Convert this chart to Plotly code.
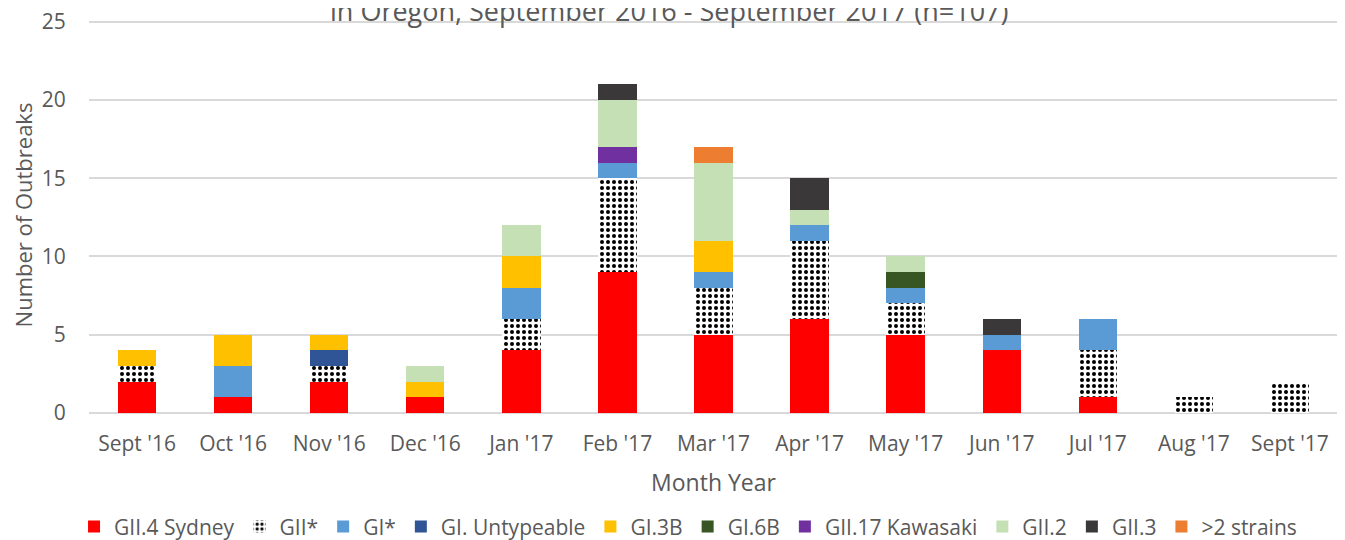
import plotly.graph_objects as go

months = ["Sept '16", "Oct '16", "Nov '16", "Dec '16", "Jan '17", "Feb '17", "Mar '17",
          "Apr '17", "May '17", "Jun '17", "Jul '17", "Aug '17", "Sept '17"]

gii4_sydney   = [2, 1, 2, 1, 4, 9, 5, 6, 5, 4, 1, 0, 0]
gii_star      = [1, 0, 1, 0, 2, 6, 3, 5, 2, 0, 3, 1, 2]
gi_star       = [0, 2, 0, 0, 2, 1, 1, 1, 1, 1, 2, 0, 0]
gi_untypeable = [0, 0, 1, 0, 0, 0, 0, 0, 0, 0, 0, 0, 0]
gi3b          = [1, 2, 1, 1, 2, 0, 2, 0, 0, 0, 0, 0, 0]
gi6b          = [0, 0, 0, 0, 0, 0, 0, 0, 1, 0, 0, 0, 0]
gii17_kawa    = [0, 0, 0, 0, 0, 1, 0, 0, 0, 0, 0, 0, 0]
gii2          = [0, 0, 0, 1, 2, 3, 5, 1, 1, 0, 0, 0, 0]
gii3          = [0, 0, 0, 0, 0, 1, 0, 2, 0, 1, 0, 0, 0]
more_strains  = [0, 0, 0, 0, 0, 0, 1, 0, 0, 0, 0, 0, 0]

y_ticks = [0, 5, 10, 15, 20, 25]

series = [
    ("GII.4 Sydney", gii4_sydney, "#FF0000"),
    ("GII*", gii_star, None),
    ("GI*", gi_star, "#5B9BD5"),
    ("GI. Untypeable", gi_untypeable, "#2F5597"),
    ("GI.3B", gi3b, "#FFC000"),
    ("GI.6B", gi6b, "#375623"),
    ("GII.17 Kawasaki", gii17_kawa, "#7030A0"),
    ("GII.2", gii2, "#C5E0B4"),
    ("GII.3", gii3, "#3A3838"),
    (">2 strains", more_strains, "#ED7D31"),
]

font_family = "Open Sans"
gray = "#595959"

fig = go.Figure()
for name, vals, color in series:
    y = [v if v else None for v in vals]
    if color is None:
        marker = dict(color="white",
                      pattern=dict(shape=".", fgcolor="black", bgcolor="white",
                                   size=6, solidity=0.35, fillmode="replace"),
                      line=dict(width=0))
    else:
        marker = dict(color=color, line=dict(width=0))
    fig.add_trace(go.Bar(name=name, x=months, y=y, marker=marker, width=0.4))

fig.update_layout(
    barmode="stack",
    width=1345, height=540,
    margin=dict(l=81, r=15, t=9, b=135, autoexpand=False),
    plot_bgcolor="white", paper_bgcolor="white",
    font=dict(family=font_family, size=21, color=gray),
    showlegend=True,
    legend=dict(orientation="h", x=0.5056, xanchor="center", xref="container",
                y=0.039, yanchor="middle", yref="container",
                font=dict(size=21, color=gray), traceorder="normal",
                itemwidth=30, tracegroupgap=0),
    xaxis=dict(title=dict(text="Month Year", font=dict(size=23, color=gray), standoff=18),
               tickfont=dict(size=21, color=gray), showgrid=False, showline=False,
               ticks="outside", ticklen=12, tickcolor="rgba(0,0,0,0)", automargin=False),
    yaxis=dict(title=dict(text="Number of Outbreaks", font=dict(size=22, color=gray), standoff=8),
               range=[0, 25.3], tickvals=y_ticks, tickfont=dict(size=21, color=gray),
               showgrid=True, gridcolor="#D9D9D9", gridwidth=1.5,
               zeroline=True, zerolinecolor="#D9D9D9", zerolinewidth=1.5,
               ticks="outside", ticklen=18, tickcolor="rgba(0,0,0,0)",
               ticklabeloverflow="allow", automargin=False),
    bargap=0.6,
)

fig.add_annotation(text="in Oregon, September 2016 - September 2017 (n=107)",
                   xref="paper", yref="paper", x=0.465, xanchor="center",
                   y=1.0, yshift=-14, yanchor="bottom", showarrow=False,
                   font=dict(size=27, color=gray, family=font_family))

fig.write_html("out.html")
